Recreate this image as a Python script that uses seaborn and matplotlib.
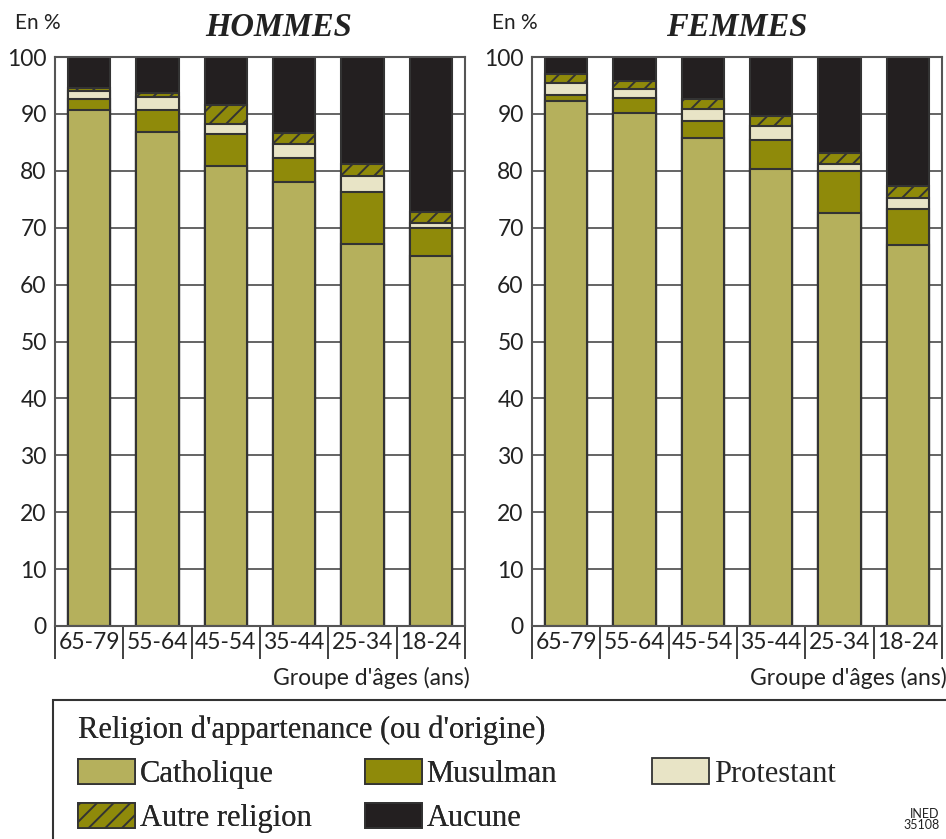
import numpy as np
import pandas as pd
import seaborn as sns
import matplotlib.pyplot as plt
from matplotlib.patches import Patch, Rectangle

# Data (in %)
ages = ["65-79", "55-64", "45-54", "35-44", "25-34", "18-24"]
religions = ["Catholique", "Musulman", "Protestant", "Autre religion", "Aucune"]

hommes_catholique = [90.6, 86.9, 80.9, 78.1, 67.1, 65.0]
hommes_musulman = [2.1, 3.7, 5.6, 4.1, 9.2, 4.9]
hommes_protestant = [1.4, 2.4, 1.8, 2.5, 2.8, 1.0]
hommes_autre = [0.5, 0.6, 3.3, 2.0, 2.1, 1.9]
hommes_aucune = [5.4, 6.4, 8.4, 13.3, 18.8, 27.2]

femmes_catholique = [92.3, 90.2, 85.7, 80.3, 72.5, 67.0]
femmes_musulman = [1.1, 2.6, 3.1, 5.1, 7.4, 6.2]
femmes_protestant = [2.1, 1.6, 2.1, 2.4, 1.3, 2.1]
femmes_autre = [1.6, 1.3, 1.7, 1.8, 2.0, 2.1]
femmes_aucune = [2.9, 4.3, 7.4, 10.4, 16.8, 22.6]

colors = {"Catholique": "#b5b05c", "Musulman": "#8f8a0a", "Protestant": "#e8e4c6",
          "Autre religion": "#8f8a0a", "Aucune": "#231f20"}
hatches = {"Autre religion": "//"}

# Build long table with cumulative heights
rows = []
for sexe, series in [("HOMMES", [hommes_catholique, hommes_musulman, hommes_protestant, hommes_autre, hommes_aucune]),
                     ("FEMMES", [femmes_catholique, femmes_musulman, femmes_protestant, femmes_autre, femmes_aucune])]:
    for rel, vals in zip(religions, series):
        for age, v in zip(ages, vals):
            rows.append({"sexe": sexe, "age": age, "religion": rel, "value": v})
df = pd.DataFrame(rows)
df["religion"] = pd.Categorical(df["religion"], religions, ordered=True)
df = df.sort_values(["sexe", "age", "religion"])
df["cum"] = df.groupby(["sexe", "age"], observed=True)["value"].cumsum()

sns.set_style("white")
plt.rcParams["font.family"] = ["Lato", "DejaVu Sans"]
plt.rcParams["hatch.linewidth"] = 1.4
plt.rcParams["hatch.color"] = "#2a2a2a"

fig = plt.figure(figsize=(9.46, 8.39), dpi=100)
edge = "#333333"
txt = "#222222"
serif = ["Liberation Serif", "DejaVu Serif"]

positions = {"HOMMES": [55 / 946, 1 - 626 / 839, 410 / 946, 569 / 839],
             "FEMMES": [532 / 946, 1 - 626 / 839, 410 / 946, 569 / 839]}
title_x = {"HOMMES": (279 - 55) / 410, "FEMMES": 0.5}

for sexe in ["HOMMES", "FEMMES"]:
    ax = fig.add_axes(positions[sexe])
    sub = df[df["sexe"] == sexe]
    # draw from the top layer down, each cumulative bar covers the previous
    for rel in reversed(religions):
        part = sub[sub["religion"] == rel]
        sns.barplot(data=part, x="age", y="cum", order=ages, color=colors[rel],
                    saturation=1, errorbar=None, width=0.615, edgecolor=edge,
                    linewidth=1.5, hatch=hatches.get(rel, None), ax=ax)
    ax.set_ylim(0, 100)
    ax.set_xlim(-0.5, 5.5)
    ax.set_yticks(np.arange(0, 101, 10))
    ax.set_axisbelow(True)
    ax.yaxis.grid(True, color="#3a3a3a", linewidth=1.1)
    ax.xaxis.grid(False)
    ax.set_xticks(np.arange(-0.5, 6, 1), minor=True)
    ax.tick_params(axis="x", which="major", bottom=False, length=0, pad=4,
                   labelsize=16.5, labelcolor=txt)
    ax.tick_params(axis="x", which="minor", bottom=True, length=24, width=1.3,
                   color=edge, direction="out")
    ax.tick_params(axis="y", left=False, length=0, pad=6, labelsize=16.5, labelcolor=txt)
    for s in ax.spines.values():
        s.set_color("#555555")
        s.set_linewidth(1.5)
    ax.set_ylabel("")
    ax.set_xlabel("Groupe d'âges (ans)", loc="right", fontsize=16.5, color=txt, labelpad=2)
    ax.xaxis.label.set_position((1.012, 0))
    ax.text(-0.098, 1.06, "En %", transform=ax.transAxes, ha="left", va="center",
            fontsize=15, color=txt)
    ax.text(title_x[sexe], 1.051, sexe, transform=ax.transAxes, ha="center", va="center",
            fontsize=23.5, fontstyle="italic", fontweight="bold", family=serif, color=txt)

# Legend: two first columns with the title, Protestant placed on its own
handles = {r: Patch(facecolor=colors[r], edgecolor=edge, linewidth=1.3, hatch=hatches.get(r, None))
           for r in religions}
leg_kw = dict(frameon=False, borderpad=0, handlelength=1.86, handleheight=0.92,
              handletextpad=0.15, labelspacing=0.45, prop={"family": serif, "size": 22})
main = ["Catholique", "Autre religion", "Musulman", "Aucune"]
leg1 = fig.legend([handles[r] for r in main], main, loc="upper left",
                  bbox_to_anchor=(63 / 946, 1 - 700 / 839), ncol=2, columnspacing=1.75,
                  title="Religion d'appartenance (ou d'origine)", alignment="left",
                  title_fontproperties={"family": serif, "size": 22}, **leg_kw)
leg2 = fig.legend([handles["Protestant"]], ["Protestant"], loc="upper left",
                  bbox_to_anchor=(637 / 946, 1 - 743 / 839), **leg_kw)
fig.add_artist(leg1)

fig.patches.append(Rectangle((53 / 946, -0.05), 1.0, 0.05 + 1 - 700 / 839,
                             transform=fig.transFigure, fill=False, edgecolor=edge, linewidth=1.5))
fig.text(0.993, 0.01, "INED\n35108", ha="right", va="bottom", fontsize=9,
         linespacing=0.85, color=txt)

fig.savefig("out.png", dpi=100)
